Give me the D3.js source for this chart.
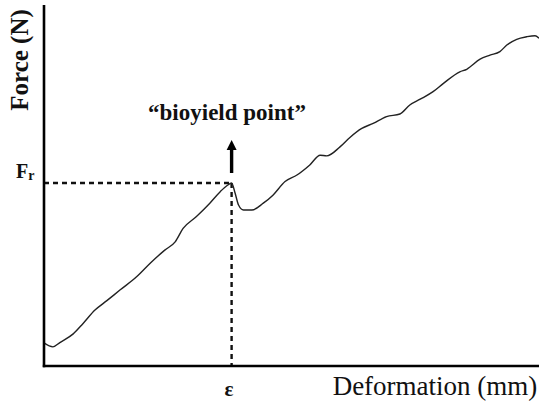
<!DOCTYPE html>
<html>
<head>
<meta charset="utf-8">
<script src="https://cdn.jsdelivr.net/npm/d3@7"></script>
<style>
  body { margin: 0; background: #fff; }
  svg { display: block; }
  text { font-family: "Liberation Serif", "Times New Roman", serif; fill: #111; }
</style>
</head>
<body>
<div id="chart"></div>
<script>
const width = 539, height = 407
const margin = {left: 44, right: 0, top: 5, bottom: 41}

// deformation (arbitrary mm units) and force (arbitrary N units)
const deformation = [0, 0.18, 0.32, 0.59, 0.79, 1.03, 1.27, 1.54, 1.87, 2.14, 2.44, 2.65, 2.81, 3.08, 3.35, 3.56, 3.70, 3.79,
    3.86, 3.93, 4.03, 4.20, 4.43, 4.63, 4.87, 5.11, 5.37, 5.58, 5.71, 5.98, 6.18, 6.42, 6.65, 6.92, 7.19, 7.39, 7.60,
    7.86, 8.07, 8.40, 8.54, 8.81, 9.01, 9.21, 9.35, 9.55, 9.75, 9.92, 10]
const force = [0.64, 0.53, 0.65, 0.89, 1.18, 1.55, 1.81, 2.11, 2.47, 2.84, 3.21, 3.44, 3.81, 4.14, 4.51, 4.83, 5.00, 5.07,
    4.79, 4.46, 4.32, 4.32, 4.51, 4.74, 5.11, 5.29, 5.57, 5.84, 5.82, 6.07, 6.33, 6.58, 6.72, 6.91, 6.98, 7.23, 7.39,
    7.60, 7.83, 8.15, 8.22, 8.50, 8.61, 8.71, 8.89, 9.05, 9.12, 9.15, 9.08]

// bioyield point
const yield_x = 3.79, yield_y = 5.07

const svg = d3.select("#chart").append("svg")
    .attr("width", width)
    .attr("height", height)

const x = d3.scaleLinear().domain([0, 10]).range([margin.left, width - margin.right])
const y = d3.scaleLinear().domain([0, 10]).range([height - margin.bottom, margin.top])

const pts = deformation.map((d, i) => [d, force[i]])

// dashed guides
svg.append("line")
    .attr("x1", x(0)).attr("x2", x(yield_x))
    .attr("y1", y(yield_y)).attr("y2", y(yield_y))
    .attr("stroke", "#111").attr("stroke-width", 2.4)
    .attr("stroke-dasharray", "5,4")

svg.append("line")
    .attr("x1", x(yield_x)).attr("x2", x(yield_x))
    .attr("y1", y(yield_y)).attr("y2", y(0))
    .attr("stroke", "#111").attr("stroke-width", 2.4)
    .attr("stroke-dasharray", "5,4")

// curve
svg.append("path")
    .datum(pts)
    .attr("fill", "none")
    .attr("stroke", "#222")
    .attr("stroke-width", 1.4)
    .attr("stroke-linejoin", "round")
    .attr("d", d3.line().x(d => x(d[0])).y(d => y(d[1])).curve(d3.curveMonotoneX))

// axes (plain lines, no ticks)
svg.append("line")
    .attr("x1", x(0)).attr("x2", x(0))
    .attr("y1", y(10)).attr("y2", y(0) + 1.2)
    .attr("stroke", "#000").attr("stroke-width", 2.6)
svg.append("line")
    .attr("x1", x(0) - 1.2).attr("x2", x(10))
    .attr("y1", y(0)).attr("y2", y(0))
    .attr("stroke", "#000").attr("stroke-width", 2.6)

// arrow pointing up to the label
const ax = x(yield_x), ay0 = y(yield_y) - 10, ay1 = y(yield_y) - 43
svg.append("line")
    .attr("x1", ax).attr("x2", ax)
    .attr("y1", ay0).attr("y2", ay1 + 8)
    .attr("stroke", "#000").attr("stroke-width", 3.4)
svg.append("path")
    .attr("d", `M${ax - 5},${ay1 + 10} L${ax},${ay1} L${ax + 5},${ay1 + 10} Z`)
    .attr("fill", "#000")

svg.append("text")
    .attr("x", 227).attr("y", 120)
    .attr("text-anchor", "middle")
    .attr("font-size", 23)
    .attr("font-weight", "bold")
    .text("\u201Cbioyield point\u201D")

// y label
svg.append("text")
    .attr("transform", "translate(28,60) rotate(-90)")
    .attr("text-anchor", "middle")
    .attr("font-size", 25)
    .attr("font-weight", "bold")
    .text("Force (N)")

// F_r
const fr = svg.append("text")
    .attr("x", 16).attr("y", 178)
    .attr("font-size", 20)
    .attr("font-weight", "bold")
fr.append("tspan").text("F")
fr.append("tspan").attr("font-size", 14).attr("dy", 2).text("r")

// epsilon
svg.append("text")
    .attr("x", 229).attr("y", 396)
    .attr("text-anchor", "middle")
    .attr("font-size", 21)
    .attr("font-weight", "bold")
    .text("\u03B5")

// x label
svg.append("text")
    .attr("x", 435).attr("y", 395)
    .attr("text-anchor", "middle")
    .attr("font-size", 27)
    .text("Deformation (mm)")
</script>
</body>
</html>
